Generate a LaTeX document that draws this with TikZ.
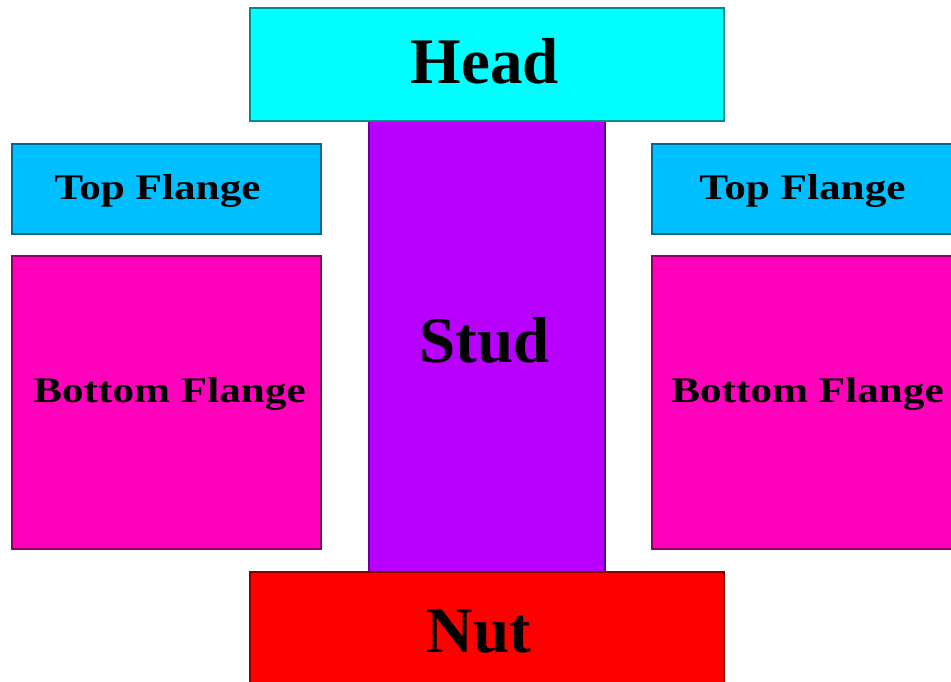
\documentclass[tikz,border=0pt]{standalone}
\usepackage{fontspec}
\usepackage{graphicx}
\setmainfont{Liberation Serif}
\definecolor{headc}{HTML}{00FFFF}
\definecolor{topc}{HTML}{00BFFF}
\definecolor{botc}{HTML}{FF00BB}
\definecolor{studc}{HTML}{B800FF}
\definecolor{nutc}{HTML}{FF0000}
\tikzset{
  part/.style={rectangle, draw=#1!55!black, fill=#1, line width=2pt, inner sep=0pt, anchor=north west},
  bigtxt/.style={anchor=base, inner sep=0pt, font=\fontsize{65}{70}\selectfont\bfseries},
  smalltxt/.style={anchor=base, inner sep=0pt, font=\fontsize{36}{40}\selectfont\bfseries},
}
\newcommand{\wide}[1]{\scalebox{1.2}[1]{#1}}
\begin{document}
\begin{tikzpicture}[x=1pt,y=-1pt]
\useasboundingbox (0,0) rectangle (951,681);
\clip (0,0) rectangle (951,681);
% boxes
\node[part=studc, minimum width=236pt, minimum height=451pt] (stud) at (368,120) {};
\node[part=headc, minimum width=474pt, minimum height=113pt] (head) at (249,7) {};
\node[part=nutc, minimum width=474pt, minimum height=124pt] (nut) at (249,571) {};
\node[part=topc, minimum width=309pt, minimum height=90pt] (ltop) at (11,143) {};
\node[part=botc, minimum width=309pt, minimum height=293pt] (lbot) at (11,255) {};
\node[part=topc, minimum width=320pt, minimum height=90pt] (rtop) at (651,143) {};
\node[part=botc, minimum width=320pt, minimum height=293pt] (rbot) at (651,255) {};
% labels
\node[bigtxt] (headt) at (485,83) {Head};
\node[bigtxt] (studt) at (484.5,362) {Stud};
\node[bigtxt] (nutt) at (478.5,652) {Nut};
\node[smalltxt] (ltopt) at (157.5,199) {\wide{Top Flange}};
\node[smalltxt] (rtopt) at (802.5,199) {\wide{Top Flange}};
\node[smalltxt] (lbott) at (169.5,402) {\wide{Bottom Flange}};
\node[smalltxt] (rbott) at (807.5,402) {\wide{Bottom Flange}};
\end{tikzpicture}
\end{document}
